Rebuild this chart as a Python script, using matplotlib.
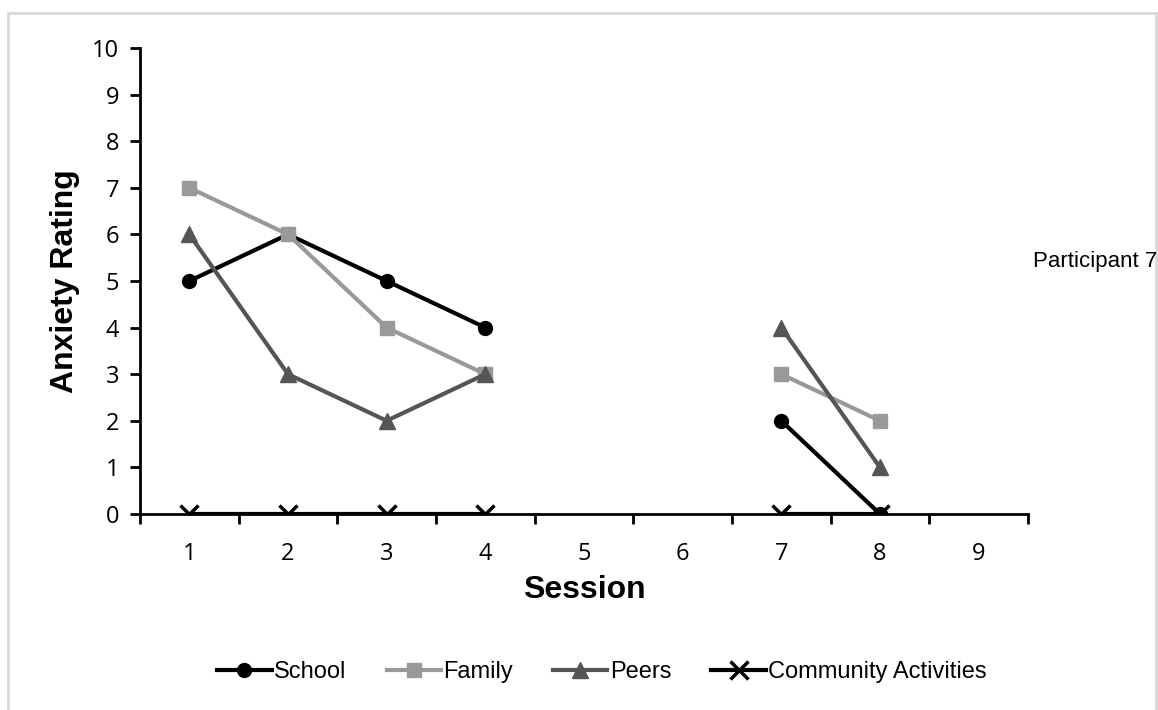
import numpy as np
import matplotlib
matplotlib.use("Agg")
import matplotlib.pyplot as plt
from matplotlib.patches import Rectangle

sessions = [1, 2, 3, 4, 5, 6, 7, 8, 9]
nan = np.nan
school = [5, 6, 5, 4, nan, nan, 2, 0, nan]
family = [7, 6, 4, 3, nan, nan, 3, 2, nan]
peers = [6, 3, 2, 3, nan, nan, 4, 1, nan]
community = [0, 0, 0, 0, nan, nan, 0, 0, nan]

plt.rcParams["font.family"] = ["Open Sans", "DejaVu Sans"]
plt.rcParams["xtick.labelsize"] = 17
plt.rcParams["ytick.labelsize"] = 17

fig = plt.figure(figsize=(11.58, 7.10), dpi=100)
ax = fig.add_axes([0.1209, 0.2761, 0.7668, 0.6563])

# gray frame around chart area
fig.patches.append(Rectangle((8 / 1158, -0.01), 1148 / 1158, 1 - 13 / 710 + 0.01,
                             transform=fig.transFigure, fill=False,
                             edgecolor="#d9d9d9", linewidth=2))

lw = 3
ax.plot(sessions, school, color="black", lw=lw, marker="o", ms=10, label="School")
ax.plot(sessions, family, color="#999999", lw=lw, marker="s", ms=10, label="Family")
ax.plot(sessions, peers, color="#555555", lw=lw, marker="^", ms=12, label="Peers")
ax.plot(sessions, community, color="black", lw=lw, marker="x", ms=13, mew=2.5,
        label="Community Activities")

ax.set_xlim(0.5, 9.5)
ax.set_ylim(0, 10)
ax.set_yticks(range(0, 11))
ax.set_xticks(np.arange(0.5, 9.6, 1))
ax.set_xticklabels([])
ax.set_xticks(sessions, minor=True)
ax.set_xticklabels([str(s) for s in sessions], minor=True, fontsize=17)
ax.tick_params(axis="x", which="minor", length=0, pad=20)
ax.tick_params(axis="x", which="major", length=7, width=2, direction="out")
ax.tick_params(axis="y", length=7, width=2, direction="out", pad=8)

for s in ["top", "right"]:
    ax.spines[s].set_visible(False)
ax.spines["left"].set_linewidth(2)
ax.spines["bottom"].set_linewidth(2)

ax.set_xlabel("Session", fontsize=23, fontweight="bold", family="Liberation Sans", labelpad=7)
ax.set_ylabel("Anxiety Rating", fontsize=23, fontweight="bold", family="Liberation Sans", labelpad=9)

fig.text(1033 / 1158, 1 - 262 / 710, "Participant 7", fontsize=16,
         family="Liberation Sans", va="center", ha="left")

leg = fig.legend(loc="center", bbox_to_anchor=(602 / 1158, 1 - 672 / 710), ncol=4,
                 frameon=False, handlelength=2.3, handletextpad=0.1, columnspacing=1.7,
                 prop={"family": "Liberation Sans", "size": 17})

fig.savefig("out.png", dpi=100)
